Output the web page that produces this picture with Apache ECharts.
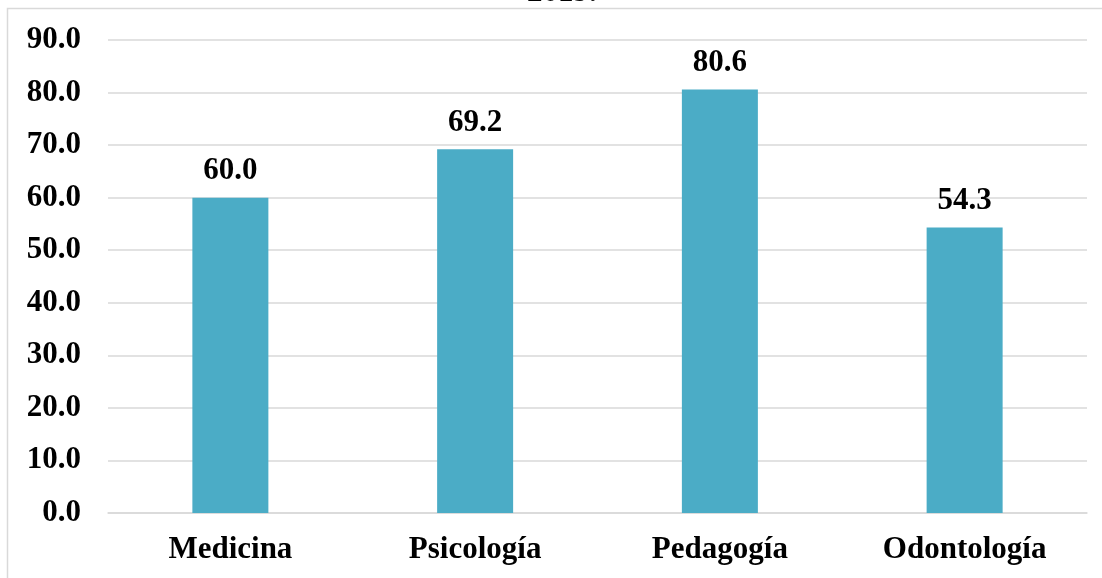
<!DOCTYPE html>
<html>
<head>
<meta charset="utf-8">
<script src="https://cdn.jsdelivr.net/npm/echarts@6/dist/echarts.min.js"></script>
<style>
  html, body { margin: 0; padding: 0; background: #ffffff; }
  #chart { width: 1102px; height: 578px; }
</style>
</head>
<body>
<div id="chart"></div>
<script>
// Carreras y porcentajes
const categories = ['Medicina', 'Psicología', 'Pedagogía', 'Odontología'];
const values = [60.0, 69.2, 80.6, 54.3];
const titleText = '2019.';

const serif = '"Liberation Serif", "Times New Roman", serif';
const chart = echarts.init(document.getElementById('chart'), null, { renderer: 'canvas' });

chart.setOption({
  animation: false,
  backgroundColor: '#ffffff',
  title: {
    text: titleText,
    left: 527,
    top: -23,
    padding: 0,
    textStyle: { fontFamily: serif, fontWeight: 'bold', fontSize: 31, color: '#000' }
  },
  graphic: [{
    type: 'rect',
    shape: { x: 7.5, y: 8.5, width: 1300, height: 800 },
    style: { fill: 'none', stroke: '#d9d9d9', lineWidth: 1.5 },
    z: -1
  }],
  grid: { left: 108, right: 15, top: 40, bottom: 65, containLabel: false },
  xAxis: {
    type: 'category',
    data: categories,
    axisTick: { show: false },
    axisLine: { show: true, lineStyle: { color: '#d9d9d9', width: 1.5 } },
    axisLabel: {
      margin: 21,
      color: '#000',
      fontFamily: serif,
      fontWeight: 'bold',
      fontSize: 31
    }
  },
  yAxis: {
    type: 'value',
    min: 0,
    max: 90,
    interval: 10,
    axisLine: { show: false },
    axisTick: { show: false },
    splitLine: { lineStyle: { color: '#d9d9d9', width: 1.5 } },
    axisLabel: {
      margin: 27,
      color: '#000',
      fontFamily: serif,
      fontWeight: 'bold',
      fontSize: 31,
      formatter: v => v.toFixed(1)
    }
  },
  series: [{
    type: 'bar',
    data: values,
    barWidth: 76,
    itemStyle: { color: '#4BACC6' },
    label: {
      show: true,
      position: 'top',
      distance: 11,
      color: '#000',
      fontFamily: serif,
      fontWeight: 'bold',
      fontSize: 31,
      formatter: p => p.value.toFixed(1)
    }
  }]
});
</script>
</body>
</html>
